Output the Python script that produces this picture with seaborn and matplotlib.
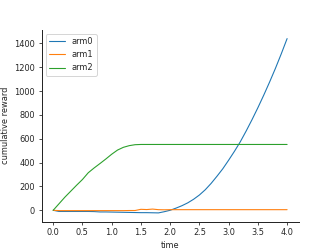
import numpy as np
import pandas as pd
import matplotlib
matplotlib.use("Agg")
import matplotlib.pyplot as plt
import seaborn as sns

# time grid and cumulative rewards
time = [round(0.1 * i, 1) for i in range(41)]
arm0 = [0, -10, -10, -10, -10, -10, -10, -11, -14, -14,
        -15, -16, -17, -18, -19, -20, -20, -21, -22, -12,
        0, 18, 38, 62, 92, 128, 172, 225, 285, 348,
        420, 495, 575, 665, 760, 860, 965, 1075, 1190, 1312, 1440]
arm1 = [0, -3, -3, -3, -3, -3, -3, -3, -3, -3,
        -3, -3, -3, -2, -2, 8, 6, 10, 5, 4,
        5, 5, 5, 5, 5, 5, 5, 5, 5, 5,
        5, 5, 5, 5, 5, 5, 5, 5, 5, 5, 5]
arm2 = [0, 55, 110, 160, 210, 258, 315, 355, 392, 430,
        470, 505, 528, 542, 550, 552, 552, 552, 552, 552,
        552, 552, 552, 552, 552, 552, 552, 552, 552, 552,
        552, 552, 552, 552, 552, 552, 552, 552, 552, 552, 552]

df = pd.DataFrame({"time": time, "arm0": arm0, "arm1": arm1, "arm2": arm2})
long = df.melt(id_vars="time", var_name="arm", value_name="cumulative reward")

sns.set_style("ticks")
plt.rcParams["font.size"] = 8.2
plt.rcParams["axes.labelsize"] = 8.2
plt.rcParams["xtick.labelsize"] = 8.2
plt.rcParams["ytick.labelsize"] = 8.2
plt.rcParams["legend.fontsize"] = 8.2
plt.rcParams["axes.linewidth"] = 1.0
plt.rcParams["xtick.major.size"] = 3
plt.rcParams["ytick.major.size"] = 3

fig, ax = plt.subplots(figsize=(332 / 72, 249 / 72), dpi=72)
fig.subplots_adjust(left=0.125, right=0.9, bottom=0.11, top=0.88)
sns.lineplot(data=long, x="time", y="cumulative reward", hue="arm",
             palette=["#1f77b4", "#ff7f0e", "#2ca02c"], linewidth=1.1, ax=ax)
ax.set_xticks(np.arange(0, 4.01, 0.5))
ax.set_yticks(range(0, 1401, 200))
ax.legend(loc="upper left", title=None)
sns.despine()
fig.savefig("out.png", dpi=72)
